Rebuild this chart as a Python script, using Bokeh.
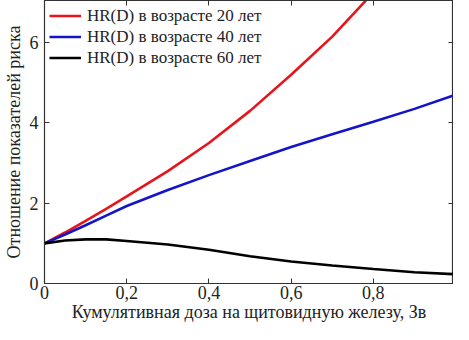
from bokeh.plotting import figure
from bokeh.models import (LinearAxis, FixedTicker, CustomJSTickFormatter, Range1d,
                          Legend, LegendItem, CustomLabelingPolicy)
from bokeh.embed import file_html
from bokeh.resources import INLINE

dose = [0.0, 0.05, 0.1, 0.15, 0.2, 0.3, 0.4, 0.5, 0.6, 0.7, 0.8, 0.9, 1.0]
hr20 = [1.0, 1.27, 1.56, 1.86, 2.17, 2.8, 3.5, 4.3, 5.2, 6.15, 7.25, 8.4, 9.6]
hr40 = [1.0, 1.22, 1.45, 1.69, 1.93, 2.33, 2.7, 3.05, 3.4, 3.72, 4.03, 4.35, 4.7]
hr60 = [1.0, 1.07, 1.1, 1.1, 1.06, 0.97, 0.84, 0.68, 0.55, 0.45, 0.36, 0.28, 0.23]

labels = ["HR(D) в возрасте 20 лет", "HR(D) в возрасте 40 лет", "HR(D) в возрасте 60 лет"]
colors = ["#e8141c", "#1414c8", "#000000"]
x_ticks = [0, 0.2, 0.4, 0.6, 0.8]
y_ticks = [0, 2, 4, 6]
x_title = "Кумулятивная доза на щитовидную железу, Зв"
y_title = "Отношение показателей риска"

FONT = "'Liberation Serif', 'Times New Roman', serif"

p = figure(width=453, height=324, output_backend="svg", toolbar_location=None,
           x_range=Range1d(0, 0.995), y_range=Range1d(0, 7.05),
           min_border_left=0, min_border_right=0, min_border_top=0, min_border_bottom=0)
p.grid.visible = False
p.outline_line_color = "#333333"
p.outline_line_width = 1.2
p.background_fill_color = "white"
p.border_fill_color = "white"

fmt_x = CustomJSTickFormatter(code="return tick == 0 ? '0' : tick.toFixed(1).replace('.', ',');")
fmt_blank = CustomJSTickFormatter(code="return '';")

def style(ax, size="18px"):
    ax.major_tick_in = 5
    ax.major_tick_out = 0
    ax.minor_tick_in = 0
    ax.minor_tick_out = 0
    ax.axis_line_color = "#333333"
    ax.major_tick_line_color = "#333333"
    ax.major_label_text_font = FONT
    ax.major_label_text_font_size = size
    ax.major_label_text_color = "#222222"
    ax.axis_label_text_font = FONT
    ax.axis_label_text_font_size = "18px"
    ax.axis_label_text_font_style = "normal"
    ax.axis_label_text_color = "#222222"

xa = p.xaxis[0]
xa.ticker = FixedTicker(ticks=x_ticks)
xa.formatter = fmt_x
xa.axis_label = x_title
style(xa)
xa.major_label_standoff = 2
xa.axis_label_standoff = 0

ya = p.yaxis[0]
ya.ticker = FixedTicker(ticks=y_ticks)
ya.axis_label = y_title
style(ya)
ya.major_label_standoff = 6
ya.axis_label_standoff = 3

no_labels = CustomLabelingPolicy(code="return new Set()")
top = LinearAxis(ticker=FixedTicker(ticks=x_ticks), formatter=fmt_blank,
                 major_label_policy=no_labels)
style(top, "1px")
top.major_label_standoff = 0
p.add_layout(top, "above")
right = LinearAxis(ticker=FixedTicker(ticks=y_ticks), formatter=fmt_blank,
                   major_label_policy=no_labels)
style(right, "1px")
right.major_label_standoff = 0
p.add_layout(right, "right")

rs = []
for ys, c in zip([hr20, hr40, hr60], colors):
    rs.append(p.line(dose, ys, line_color=c, line_width=2.6))

legend = Legend(items=[LegendItem(label=l, renderers=[r]) for l, r in zip(labels, rs)],
                location="top_left")
legend.background_fill_alpha = 0
legend.border_line_color = None
legend.label_text_font = FONT
legend.label_text_font_size = "17px"
legend.label_text_color = "#222222"
legend.glyph_width = 32
legend.label_standoff = 6
legend.spacing = 0
legend.label_height = 21
legend.glyph_height = 21
legend.padding = 5
legend.margin = 5
p.add_layout(legend)

open("out.html", "w").write(file_html(p, INLINE))
